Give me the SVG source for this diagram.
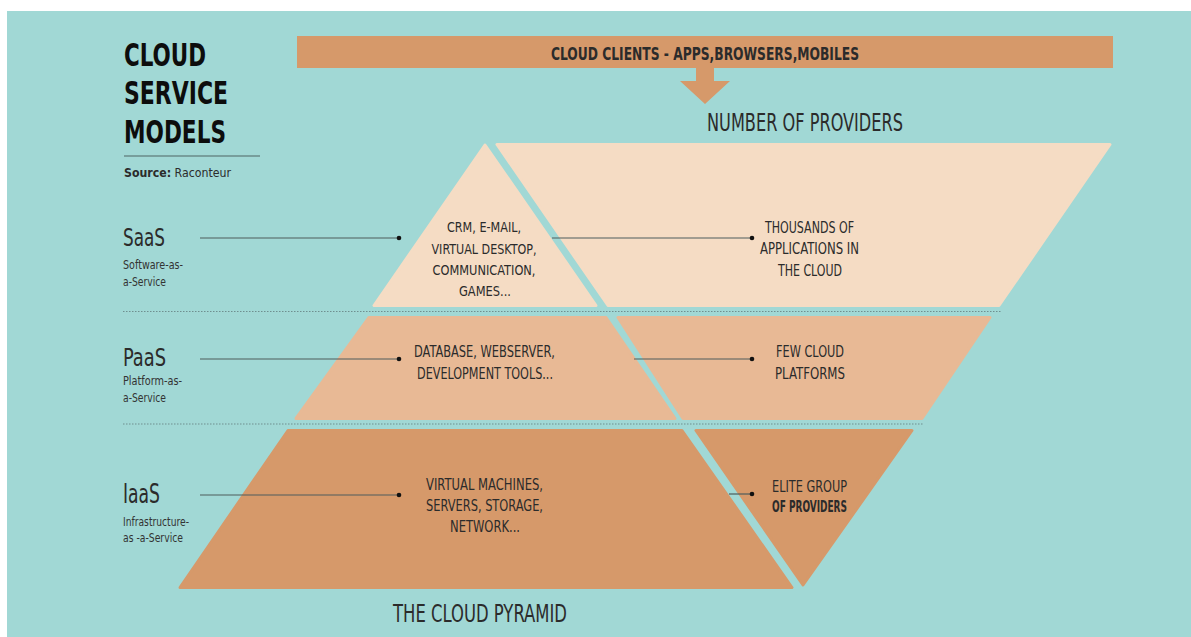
<svg xmlns="http://www.w3.org/2000/svg" width="1191" height="637" viewBox="0 0 1191 637">
<style>
.t{font-family:"DejaVu Sans Condensed","Liberation Sans",Arial,sans-serif;fill:#2b2b2b}
.title{font-weight:bold;font-size:32px;fill:#0d0d0d}
.lab{font-size:16px}
.sub{font-size:12px;fill:#333}
.dot{fill:#111}
.con{stroke:#4e5c5c;stroke-width:1.2;fill:none}
.dash{stroke:#6f8f8f;stroke-width:1;stroke-dasharray:1.5 1.5;fill:none}
.saas{fill:#f5dcc4;stroke:#f5dcc4;stroke-width:3;stroke-linejoin:round}
.paas{fill:#e8b995;stroke:#e8b995;stroke-width:3;stroke-linejoin:round}
.iaas{fill:#d6996a;stroke:#d6996a;stroke-width:3;stroke-linejoin:round}
</style>
<rect x="0" y="0" width="1191" height="637" fill="#ffffff"/>
<rect x="7" y="11" width="1184" height="626" fill="#a1d8d5"/>

<g id="title">
<text class="t title" x="124" y="66" textLength="82" lengthAdjust="spacingAndGlyphs">CLOUD</text>
<text class="t title" x="124" y="104" textLength="104" lengthAdjust="spacingAndGlyphs">SERVICE</text>
<text class="t title" x="124" y="143" textLength="102" lengthAdjust="spacingAndGlyphs">MODELS</text>
<line x1="124" y1="156" x2="260" y2="156" stroke="#4e6464" stroke-width="1.2"/>
<text class="t" x="124" y="177" font-size="12" textLength="107" lengthAdjust="spacingAndGlyphs"><tspan font-weight="bold">Source:</tspan> Raconteur</text>
</g>

<g id="clients">
<rect x="297" y="36" width="816" height="32" fill="#d6996a"/>
<text class="t" x="705" y="60" font-size="17" font-weight="bold" text-anchor="middle" textLength="308" lengthAdjust="spacingAndGlyphs">CLOUD CLIENTS - APPS,BROWSERS,MOBILES</text>
<polygon points="696,68 714,68 714,81 730,81 705,104 680,81 696,81" fill="#d6996a"/>
</g>

<text class="t" x="707" y="131" font-size="24" fill="#111" textLength="196" lengthAdjust="spacingAndGlyphs">NUMBER OF PROVIDERS</text>

<g id="dividers">
<line class="dash" x1="123" y1="311.5" x2="1001" y2="311.5"/>
<line class="dash" x1="123" y1="424" x2="923" y2="424"/>
</g>

<g id="saas-left">
<polygon class="saas" points="485,145 374,305.5 596,305.5"/>
<text class="t" font-size="14.5" text-anchor="middle"><tspan x="484" y="232" textLength="74" lengthAdjust="spacingAndGlyphs">CRM, E-MAIL,</tspan><tspan x="484" y="254" textLength="105" lengthAdjust="spacingAndGlyphs">VIRTUAL DESKTOP,</tspan><tspan x="484" y="275" textLength="103" lengthAdjust="spacingAndGlyphs">COMMUNICATION,</tspan><tspan x="485" y="296" textLength="52" lengthAdjust="spacingAndGlyphs">GAMES...</tspan></text>
</g>
<g id="saas-right">
<polygon class="saas" points="497,144.5 1110,144.5 999,305.5 608,305.5"/>
<text class="t lab" text-anchor="middle"><tspan x="809.5" y="233" textLength="89" lengthAdjust="spacingAndGlyphs">THOUSANDS OF</tspan><tspan x="809.5" y="254" textLength="99" lengthAdjust="spacingAndGlyphs">APPLICATIONS IN</tspan><tspan x="810" y="276" textLength="64" lengthAdjust="spacingAndGlyphs">THE CLOUD</tspan></text>
</g>

<g id="paas-left">
<polygon class="paas" points="369,317.5 606,317.5 675,418.5 296,418.5"/>
<text class="t" font-size="15" text-anchor="middle"><tspan x="484.5" y="357" textLength="141" lengthAdjust="spacingAndGlyphs">DATABASE, WEBSERVER,</tspan><tspan x="485" y="379" textLength="136" lengthAdjust="spacingAndGlyphs">DEVELOPMENT TOOLS...</tspan></text>
</g>
<g id="paas-right">
<polygon class="paas" points="618,317.5 990,317.5 922,418.5 683,418.5"/>
<text class="t lab" text-anchor="middle"><tspan x="810" y="357" textLength="68" lengthAdjust="spacingAndGlyphs">FEW CLOUD</tspan><tspan x="810" y="379" textLength="70" lengthAdjust="spacingAndGlyphs">PLATFORMS</tspan></text>
</g>

<g id="iaas-left">
<polygon class="iaas" points="288,430.5 682,430.5 792,587.5 180,587.5"/>
<text class="t lab" text-anchor="middle"><tspan x="484.5" y="490" textLength="117" lengthAdjust="spacingAndGlyphs">VIRTUAL MACHINES,</tspan><tspan x="484.5" y="511" textLength="117" lengthAdjust="spacingAndGlyphs">SERVERS, STORAGE,</tspan><tspan x="485" y="532" textLength="70" lengthAdjust="spacingAndGlyphs">NETWORK...</tspan></text>
</g>
<g id="iaas-right">
<polygon class="iaas" points="696,430.5 912,430.5 803,585"/>
<text class="t lab" text-anchor="middle"><tspan x="809.5" y="492" textLength="75" lengthAdjust="spacingAndGlyphs">ELITE GROUP</tspan><tspan x="809.5" y="512" font-weight="bold" textLength="75" lengthAdjust="spacingAndGlyphs">OF PROVIDERS</tspan></text>
</g>

<g id="saas-label">
<text class="t" x="123" y="246" font-size="24" fill="#111" textLength="42" lengthAdjust="spacingAndGlyphs">SaaS</text>
<text class="t sub" x="123" y="269" textLength="60" lengthAdjust="spacingAndGlyphs">Software-as-</text>
<text class="t sub" x="123" y="286" textLength="43" lengthAdjust="spacingAndGlyphs">a-Service</text>
</g>
<g id="paas-label">
<text class="t" x="123" y="366" font-size="25" fill="#111" textLength="43" lengthAdjust="spacingAndGlyphs">PaaS</text>
<text class="t sub" x="123" y="385" textLength="59" lengthAdjust="spacingAndGlyphs">Platform-as-</text>
<text class="t sub" x="123" y="402" textLength="43" lengthAdjust="spacingAndGlyphs">a-Service</text>
</g>
<g id="iaas-label">
<text class="t" x="123" y="503" font-size="27" fill="#111" textLength="37" lengthAdjust="spacingAndGlyphs">IaaS</text>
<text class="t sub" x="123" y="526" textLength="66" lengthAdjust="spacingAndGlyphs">Infrastructure-</text>
<text class="t sub" x="123" y="542" textLength="60" lengthAdjust="spacingAndGlyphs">as -a-Service</text>
</g>

<g id="connectors">
<line class="con" x1="200" y1="238" x2="399" y2="238"/>
<circle class="dot" cx="399" cy="238" r="2.3"/>
<line class="con" x1="552" y1="238" x2="752" y2="238"/>
<circle class="dot" cx="752" cy="238" r="2.3"/>
<line class="con" x1="200" y1="359" x2="399" y2="359"/>
<circle class="dot" cx="399" cy="359" r="2.3"/>
<line class="con" x1="634" y1="359" x2="752" y2="359"/>
<circle class="dot" cx="752" cy="359" r="2.3"/>
<line class="con" x1="200" y1="495" x2="399" y2="495"/>
<circle class="dot" cx="399" cy="495" r="2.3"/>
<line class="con" x1="729" y1="494" x2="752" y2="494"/>
<circle class="dot" cx="752" cy="494" r="2.3"/>
</g>

<text class="t" x="393" y="622" font-size="25" fill="#111" textLength="174" lengthAdjust="spacingAndGlyphs">THE CLOUD PYRAMID</text>
</svg>
